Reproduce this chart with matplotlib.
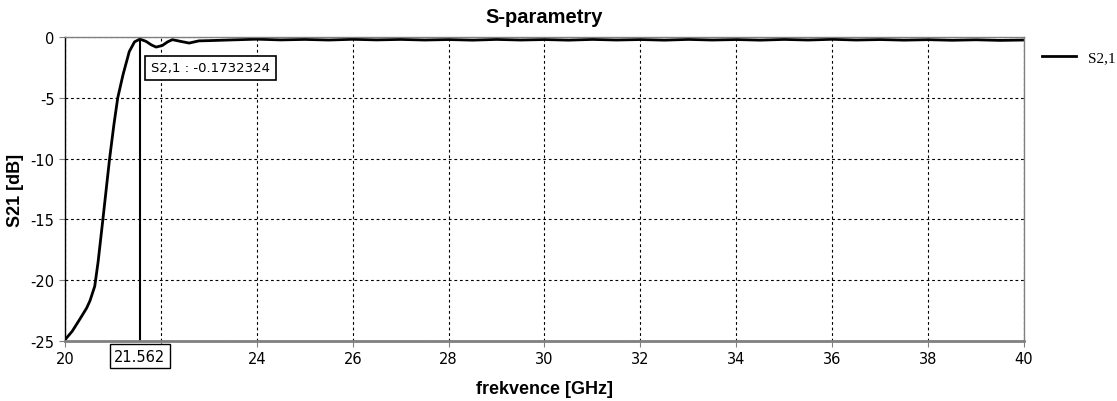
import numpy as np
import matplotlib.pyplot as plt

# frequency [GHz] and S21 [dB]
freq = [20.0, 20.15, 20.31, 20.45, 20.52, 20.62, 20.69, 20.79, 20.93, 21.02, 21.10,
        21.21, 21.34, 21.45, 21.562, 21.69, 21.80, 21.90, 22.03, 22.14, 22.24, 22.41,
        22.59, 22.79, 23.0, 23.48, 24.0, 24.5, 25.0, 25.5, 26.0, 26.5, 27.0, 27.5,
        28.0, 28.5, 29.0, 29.5, 30.0, 30.5, 31.0, 31.5, 32.0, 32.5, 33.0, 33.5,
        34.0, 34.5, 35.0, 35.5, 36.0, 36.5, 37.0, 37.5, 38.0, 38.5, 39.0, 39.5, 40.0]
s21 = [-24.9, -24.2, -23.2, -22.3, -21.7, -20.5, -18.5, -15.0, -10.0, -7.2, -5.0,
       -3.1, -1.2, -0.4, -0.1732324, -0.36, -0.65, -0.83, -0.7, -0.4, -0.22, -0.36,
       -0.5, -0.32, -0.3, -0.24, -0.18, -0.24, -0.2, -0.25, -0.19, -0.24, -0.2, -0.25,
       -0.21, -0.26, -0.2, -0.25, -0.21, -0.26, -0.2, -0.25, -0.21, -0.26, -0.2, -0.25,
       -0.21, -0.26, -0.2, -0.25, -0.19, -0.25, -0.21, -0.26, -0.22, -0.27, -0.23, -0.28, -0.25]

marker_f = 21.562
marker_val = -0.1732324
xticks = [20, 22, 24, 26, 28, 30, 32, 34, 36, 38, 40]
yticks = [0, -5, -10, -15, -20, -25]


def main():
    fig = plt.figure(figsize=(11.17, 4.02), dpi=100)
    ax = fig.add_axes([0.0582, 0.1493, 0.8585, 0.7562])

    ax.plot(freq, s21, color="black", lw=2, label="S2,1")
    ax.plot([marker_f, marker_f], [-25, marker_val], color="black", lw=1.5)

    ax.set_xlim(20, 40)
    ax.set_ylim(-25, 0)
    ax.set_xticks(xticks)
    ax.set_xticklabels(["" if t == 22 else str(t) for t in xticks])
    ax.set_yticks(yticks)
    ax.set_yticklabels([str(t) for t in yticks])  # plain hyphen, not unicode minus
    ax.tick_params(labelsize=10.5, length=4, color="#808080")
    ax.grid(True, color="black", linestyle=(0, (2.5, 2.5)), lw=0.8)

    for s in ["top", "right"]:
        ax.spines[s].set_color("#808080")
        ax.spines[s].set_linewidth(1)
    ax.spines["left"].set_color("black")
    ax.spines["left"].set_linewidth(1)
    ax.spines["bottom"].set_color("#808080")
    ax.spines["bottom"].set_linewidth(2)

    ax.set_title("S-parametry", fontsize=14.5, fontweight="bold", family="Liberation Sans", pad=11)
    ax.set_xlabel("frekvence [GHz]", fontsize=13, fontweight="bold", family="Liberation Sans", labelpad=10)
    ax.set_ylabel("S21 [dB]", fontsize=13, fontweight="bold", family="Liberation Sans")
    ax.yaxis.set_label_coords(-0.043, 0.5)

    # marker readout
    ax.text(23.04, -2.55, "S2,1 : -0.1732324", fontsize=9.5, ha="center", va="center",
            bbox=dict(boxstyle="square,pad=0.45", fc="white", ec="black", lw=1.2))
    ax.text(marker_f, -26.25, "21.562", fontsize=10.5, ha="center", va="center",
            bbox=dict(boxstyle="square,pad=0.3", fc="white", ec="black", lw=1))

    ax.legend(loc="upper left", bbox_to_anchor=(1.005, 1.0), frameon=False,
              handlelength=2.2, prop={"family": "Liberation Serif", "size": 11})

    plt.savefig("out.png", dpi=100)


if __name__ == "__main__":
    main()
